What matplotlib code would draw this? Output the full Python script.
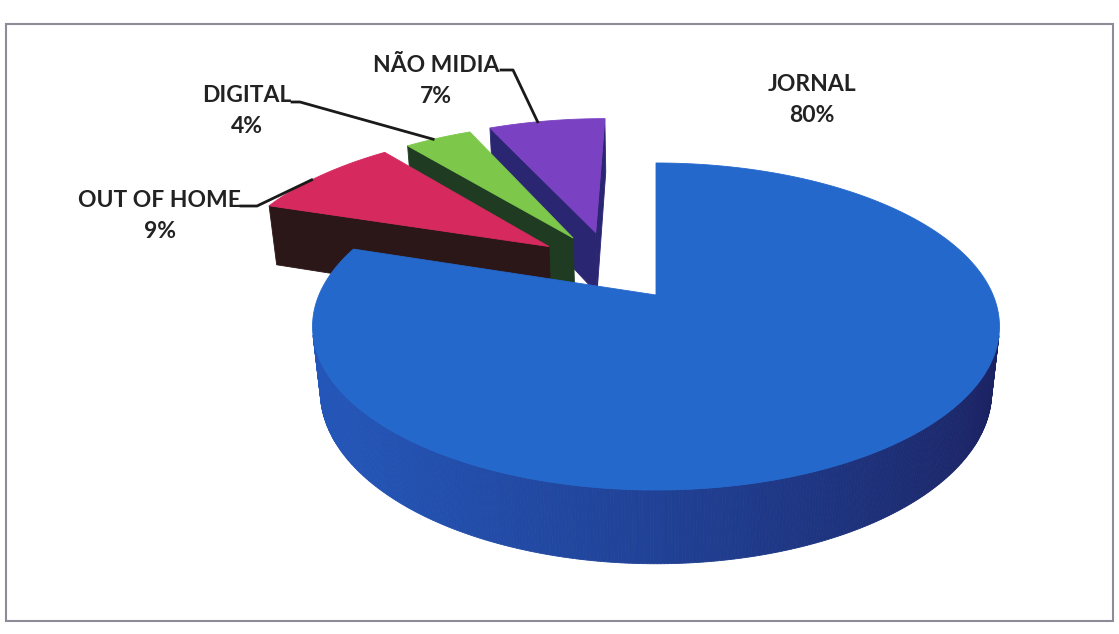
import numpy as np
import matplotlib.pyplot as plt
from matplotlib.patches import Polygon, Rectangle
from matplotlib.colors import to_rgb

# ── Data ───────────────────────────────────────
labels = ["JORNAL", "OUT OF HOME", "DIGITAL", "NÃO MIDIA"]
shares = [80, 9, 4, 7]
explode = [0.0, 0.47, 0.47, 0.47]

top_colors = ["#2468cc", "#d62a5f", "#7dc84b", "#7a42c2"]
side_light = ["#2457ba", "#2b1718", "#1f3b22", "#2b2672"]
side_dark = ["#1b2160", "#2b1718", "#1f3b22", "#2b2672"]

# label centre (px) and the short "underscore" part of each leader line
label_xy = [(812, 100), (160, 216), (247, 111), (436, 81)]
leader_head = [None, [(241, 206), (257, 206)], [(292, 102), (300, 102)],
               [(501, 70), (513, 70)]]

# ── Camera / projection ────────────────────────
ELEV = np.radians(27.85)
DIST = 4.59
FOCAL = 1547
CX, CY = 656, 295
H = 0.22
CAM = np.array([0.0, -DIST * np.cos(ELEV), DIST * np.sin(ELEV)])


def project(x, y, z):
    depth = DIST + y * np.cos(ELEV) - z * np.sin(ELEV)
    sx = x * FOCAL / depth
    sy = (y * np.sin(ELEV) + z * np.cos(ELEV)) * FOCAL / depth
    return np.column_stack([CX + sx, CY - sy])


def facing(normal, point):
    return np.dot(normal, CAM - point) > 0


def mix(c1, c2, t):
    a, b = np.array(to_rgb(c1)), np.array(to_rgb(c2))
    return tuple(a + (b - a) * t)


# ── Slice geometry ─────────────────────────────
bounds = []
a0 = 90.0
for s in shares:
    a1 = a0 - s * 3.6
    bounds.append((a1, a0))
    a0 = a1

ex = [b for b, e in zip(bounds, explode) if e > 0]
group_mid = (min(b[0] for b in ex) + max(b[1] for b in ex)) / 2

slices = []
for i, (lo, hi) in enumerate(bounds):
    mid = (lo + hi) / 2
    if explode[i] > 0:
        d = np.radians(0.5 * (mid + group_mid))
        off = explode[i] * np.array([np.cos(d), np.sin(d)])
    else:
        off = np.zeros(2)
    cen = off + 0.5 * np.array([np.cos(np.radians(mid)), np.sin(np.radians(mid))])
    slices.append(dict(i=i, lo=lo, hi=hi, mid=mid, off=off, depth=cen[1]))

# far slices first
slices.sort(key=lambda s: -s["depth"])

fig = plt.figure(figsize=(11.19, 6.34), dpi=100)
ax = fig.add_axes([0, 0, 1, 1])
ax.set_xlim(0, 1119)
ax.set_ylim(634, 0)
ax.axis("off")

for s in slices:
    i, lo, hi, ox, oy = s["i"], s["lo"], s["hi"], s["off"][0], s["off"][1]
    phi = np.radians(np.linspace(lo, hi, max(int((hi - lo) * 2), 8)))

    # outer wall, split into thin strips for shading
    for p0, p1 in zip(phi[:-1], phi[1:]):
        pm = (p0 + p1) / 2
        n = np.array([np.cos(pm), np.sin(pm), 0.0])
        pt = np.array([ox + np.cos(pm), oy + np.sin(pm), -H / 2])
        if not facing(n, pt):
            continue
        xs = ox + np.cos([p0, p1, p1, p0])
        ys = oy + np.sin([p0, p1, p1, p0])
        zs = np.array([0, 0, -H, -H])
        t = ((1 + np.cos(pm)) / 2) ** 1.3
        col = mix(side_light[i], side_dark[i], t)
        ax.add_patch(Polygon(project(xs, ys, zs), closed=True, facecolor=col,
                             edgecolor=col, lw=0.6))

    # radial faces
    for ang, nang in [(lo, lo - 90), (hi, hi + 90)]:
        r = np.radians(ang)
        rn = np.radians(nang)
        n = np.array([np.cos(rn), np.sin(rn), 0.0])
        pt = np.array([ox + 0.5 * np.cos(r), oy + 0.5 * np.sin(r), -H / 2])
        if not facing(n, pt):
            continue
        xs = np.array([ox, ox + np.cos(r), ox + np.cos(r), ox])
        ys = np.array([oy, oy + np.sin(r), oy + np.sin(r), oy])
        zs = np.array([0, 0, -H, -H])
        ax.add_patch(Polygon(project(xs, ys, zs), closed=True,
                             facecolor=side_dark[i], edgecolor=side_dark[i], lw=0.6))

    # top face
    xs = np.concatenate([[ox], ox + np.cos(phi)])
    ys = np.concatenate([[oy], oy + np.sin(phi)])
    ax.add_patch(Polygon(project(xs, ys, np.zeros_like(xs)), closed=True,
                         facecolor=top_colors[i], edgecolor=top_colors[i], lw=0.6))

# ── Labels and leader lines ────────────────────
for i, s in enumerate(sorted(slices, key=lambda s: s["i"])):
    x, y = label_xy[i]
    ax.text(x, y, f"{labels[i]}\n{shares[i]}%", ha="center", va="center",
            fontsize=16.5, fontweight="bold", family=["Lato", "DejaVu Sans"],
            color="#222222", linespacing=1.6)
    if leader_head[i] is not None:
        # leader meets the outer arc a little left of the slice middle
        m = np.radians(s["hi"] - 0.42 * (s["hi"] - s["lo"]))
        end = project(np.array([s["off"][0] + np.cos(m)]),
                      np.array([s["off"][1] + np.sin(m)]), np.zeros(1))[0]
        pts = np.array(leader_head[i] + [tuple(end)])
        ax.plot(pts[:, 0], pts[:, 1], color="#1a1a1a", lw=2.0,
                solid_joinstyle="round")

# chart border
ax.add_patch(Rectangle((6, 24), 1107, 597, fill=False, edgecolor="#8c8c99", lw=1.5))

fig.savefig("out.png", dpi=100)
